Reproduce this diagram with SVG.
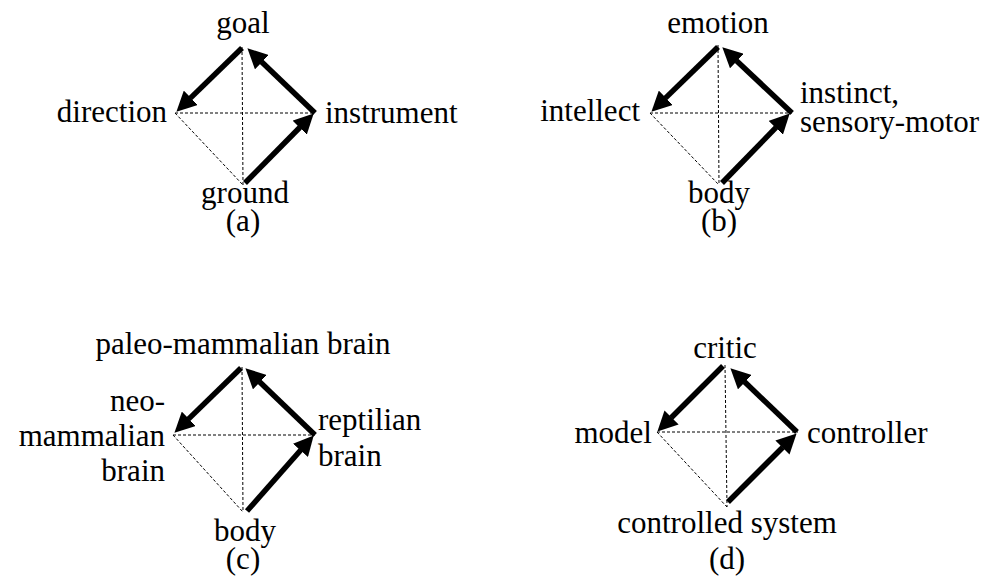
<svg xmlns="http://www.w3.org/2000/svg" width="986" height="581" viewBox="0 0 986 581">
<style>
.t{font-size:31px;fill:#000}
.m{text-anchor:middle}.e{text-anchor:end}
.d{stroke:#000;stroke-width:1;stroke-dasharray:3 2;fill:none}
.a{stroke:#000;stroke-width:5.5;fill:none;marker-end:url(#ah)}
</style>
<defs>
<marker id="ah" viewBox="0 -10 20 20" refX="0.5" refY="0" markerWidth="20" markerHeight="20" markerUnits="userSpaceOnUse" orient="auto">
<path d="M0,-10 L20,0 L0,10 z" fill="#000"/>
</marker>
</defs>
<g id="connectors">
<g id="conn-a">
<line class="d" x1="242" y1="47" x2="243" y2="185"/>
<line class="d" x1="175" y1="113" x2="315" y2="113"/>
<line class="d" x1="175" y1="113" x2="243" y2="185"/>
<line class="a" x1="242" y1="48" x2="190.4" y2="98.1"/>
<line class="a" x1="315" y1="113" x2="261.5" y2="61.8"/>
<line class="a" x1="245" y1="183" x2="300" y2="127.3"/>
</g>
<g id="conn-b">
<line class="d" x1="718" y1="45" x2="719" y2="185"/>
<line class="d" x1="650" y1="113" x2="792" y2="113"/>
<line class="d" x1="650" y1="113" x2="719" y2="185"/>
<line class="a" x1="718" y1="47" x2="665.4" y2="98.1"/>
<line class="a" x1="792" y1="113" x2="736.5" y2="60.7"/>
<line class="a" x1="722" y1="183" x2="776.1" y2="127.4"/>
</g>
<g id="conn-c">
<line class="d" x1="242" y1="367" x2="243" y2="512"/>
<line class="d" x1="173" y1="435" x2="315" y2="435"/>
<line class="d" x1="173" y1="435" x2="243" y2="512"/>
<line class="a" x1="241" y1="368" x2="188.4" y2="419.1"/>
<line class="a" x1="315" y1="435" x2="259.5" y2="381.8"/>
<line class="a" x1="247" y1="511" x2="300.8" y2="450"/>
</g>
<g id="conn-d">
<line class="d" x1="725" y1="365" x2="727" y2="507"/>
<line class="d" x1="657" y1="432" x2="798" y2="432"/>
<line class="d" x1="657" y1="432" x2="727" y2="507"/>
<line class="a" x1="723" y1="366" x2="671.2" y2="417.8"/>
<line class="a" x1="797" y1="432" x2="744.5" y2="381.8"/>
<line class="a" x1="728" y1="502" x2="782.8" y2="447.2"/>
</g>
</g>
<g class="t" font-family="Liberation Serif, serif">
<g id="a-goal"><text class="m" x="243" y="33">goal</text></g>
<g id="a-direction"><text class="e" x="167" y="122">direction</text></g>
<g id="a-instrument"><text x="325" y="123">instrument</text></g>
<g id="a-ground"><text class="m" x="245" y="203">ground</text></g>
<g id="a-caption"><text class="m" x="243" y="231">(a)</text></g>
<g id="b-emotion"><text class="m" x="718" y="33">emotion</text></g>
<g id="b-intellect"><text class="e" x="640" y="121">intellect</text></g>
<g id="b-instinct"><text x="800" y="103">instinct,</text><text x="800" y="132">sensory-motor</text></g>
<g id="b-body"><text class="m" x="719" y="203">body</text></g>
<g id="b-caption"><text class="m" x="719" y="231">(b)</text></g>
<g id="c-paleo"><text class="m" x="243" y="354">paleo-mammalian brain</text></g>
<g id="c-neo"><text class="e" x="165" y="411">neo-</text><text class="e" x="165" y="446">mammalian</text><text class="e" x="165" y="481">brain</text></g>
<g id="c-reptilian"><text x="318" y="430">reptilian</text><text x="318" y="466">brain</text></g>
<g id="c-body"><text class="m" x="245" y="541">body</text></g>
<g id="c-caption"><text class="m" x="243" y="569">(c)</text></g>
<g id="d-critic"><text class="m" x="725" y="358">critic</text></g>
<g id="d-model"><text class="e" x="652" y="443">model</text></g>
<g id="d-controller"><text x="807" y="443">controller</text></g>
<g id="d-controlled"><text class="m" x="727" y="533">controlled system</text></g>
<g id="d-caption"><text class="m" x="727" y="569">(d)</text></g>
</g>
</svg>
